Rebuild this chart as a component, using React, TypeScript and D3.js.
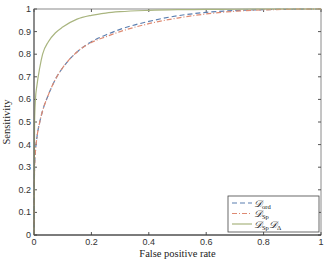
import React, { useRef, useEffect } from 'react';
import * as d3 from 'd3';

const fpr = [0, 0.002, 0.005, 0.01, 0.02, 0.03, 0.05, 0.075, 0.1, 0.15, 0.2, 0.25, 0.3, 0.4, 0.5, 0.6, 0.7, 0.8, 0.9, 1];
const sensOrd = [0, 0.3, 0.37, 0.43, 0.5, 0.55, 0.62, 0.69, 0.74, 0.81, 0.855, 0.885, 0.91, 0.945, 0.97, 0.985, 0.993, 0.997, 0.999, 1];
const sensSp = [0, 0.3, 0.37, 0.43, 0.5, 0.55, 0.62, 0.69, 0.74, 0.81, 0.852, 0.877, 0.9, 0.935, 0.96, 0.978, 0.99, 0.996, 0.999, 1];
const sensSpDelta = [0, 0.5, 0.6, 0.66, 0.74, 0.8, 0.855, 0.895, 0.92, 0.955, 0.972, 0.982, 0.988, 0.994, 0.997, 0.998, 0.999, 1, 1, 1];

const xTicks = [0, 0.2, 0.4, 0.6, 0.8, 1];
const yTicks = [0, 0.1, 0.2, 0.3, 0.4, 0.5, 0.6, 0.7, 0.8, 0.9, 1];

const series = [
  { key: 'ord', sub: 'ord', values: sensOrd, color: '#5b7fb0', dash: '5,3' },
  { key: 'sp', sub: 'Sp', values: sensSp, color: '#de8a72', dash: '5,2,1,2' },
  { key: 'spd', sub: 'Sp', values: sensSpDelta, color: '#a9b57f', dash: null },
];

export default function App() {
  const ref = useRef<SVGSVGElement | null>(null);

  useEffect(() => {
    if (!ref.current) return;
    const width = 327;
    const height = 264;
    const left = 34, right = 321, top = 9, bottom = 235;

    const svg = d3.select(ref.current);
    svg.selectAll('*').remove();
    svg.attr('width', width).attr('height', height);

    svg.append('rect').attr('width', width).attr('height', height).attr('fill', '#fff');

    const x = d3.scaleLinear().domain([0, 1]).range([left, right]);
    const y = d3.scaleLinear().domain([0, 1]).range([bottom, top]);

    const tickFont = 'Liberation Sans, Arial, sans-serif';
    const serif = 'Liberation Serif, Times New Roman, serif';

    // frame
    svg.append('rect')
      .attr('x', left).attr('y', top)
      .attr('width', right - left).attr('height', bottom - top)
      .attr('fill', 'none').attr('stroke', '#8a8a8a').attr('stroke-width', 1);

    const g = svg.append('g');
    // ticks
    xTicks.forEach(t => {
      g.append('line').attr('x1', x(t)).attr('x2', x(t)).attr('y1', bottom).attr('y2', bottom - 3).attr('stroke', '#555');
      g.append('line').attr('x1', x(t)).attr('x2', x(t)).attr('y1', top).attr('y2', top + 3).attr('stroke', '#555');
      g.append('text').attr('x', x(t)).attr('y', bottom + 10).attr('text-anchor', 'middle')
        .style('font-family', tickFont).style('font-size', '9px').attr('fill', '#333')
        .text(d3.format('~g')(t));
    });
    yTicks.forEach(t => {
      g.append('line').attr('x1', left).attr('x2', left + 3).attr('y1', y(t)).attr('y2', y(t)).attr('stroke', '#555');
      g.append('line').attr('x1', right).attr('x2', right - 3).attr('y1', y(t)).attr('y2', y(t)).attr('stroke', '#555');
      g.append('text').attr('x', left - 3).attr('y', y(t) + 3).attr('text-anchor', 'end')
        .style('font-family', tickFont).style('font-size', '9px').attr('fill', '#333')
        .text(d3.format('~g')(t));
    });

    // curves
    const line = d3.line<number>()
      .x((_, i) => x(fpr[i]))
      .y(d => y(d))
      .curve(d3.curveMonotoneX);

    series.forEach(s => {
      svg.append('path')
        .attr('d', line(s.values))
        .attr('fill', 'none')
        .attr('stroke', s.color)
        .attr('stroke-width', 1.2)
        .attr('stroke-dasharray', s.dash);
    });

    // darker left/bottom axis
    svg.append('line').attr('x1', left).attr('x2', left).attr('y1', top).attr('y2', bottom).attr('stroke', '#555');
    svg.append('line').attr('x1', left).attr('x2', right).attr('y1', bottom).attr('y2', bottom).attr('stroke', '#333');

    // legend
    const lg = svg.append('g');
    lg.append('rect').attr('x', 228).attr('y', 196).attr('width', 91).attr('height', 36)
      .attr('fill', '#fff').attr('stroke', '#444').attr('stroke-width', 0.8);
    series.forEach((s, i) => {
      const ly = 203 + i * 10.5;
      lg.append('line').attr('x1', 232).attr('x2', 252).attr('y1', ly).attr('y2', ly)
        .attr('stroke', s.color).attr('stroke-width', 1.2).attr('stroke-dasharray', s.dash);
      const t = lg.append('text').attr('x', 254).attr('y', ly + 3.5)
        .style('font-family', serif).style('font-size', '10px').attr('fill', '#111');
      t.append('tspan').style('font-style', 'italic').text('𝒟');
      t.append('tspan').attr('dy', 2).style('font-size', '6.5px').text(s.sub);
      if (s.key === 'spd') {
        t.append('tspan').attr('dy', -2).style('font-style', 'italic').text('𝒟');
        t.append('tspan').attr('dy', 2).style('font-size', '6.5px').text('Δ');
      }
    });

    // axis labels
    svg.append('text').attr('x', (left + right) / 2).attr('y', 257).attr('text-anchor', 'middle')
      .style('font-family', serif).style('font-size', '10.5px').attr('fill', '#222')
      .text('False positive rate');
    svg.append('text').attr('transform', `translate(10,${(top + bottom) / 2}) rotate(-90)`)
      .attr('text-anchor', 'middle')
      .style('font-family', serif).style('font-size', '10.5px').attr('fill', '#222')
      .text('Sensitivity');
  }, []);

  return <svg ref={ref} style={{ display: 'block', position: 'absolute', left: 0, top: 0 }} />;
}
